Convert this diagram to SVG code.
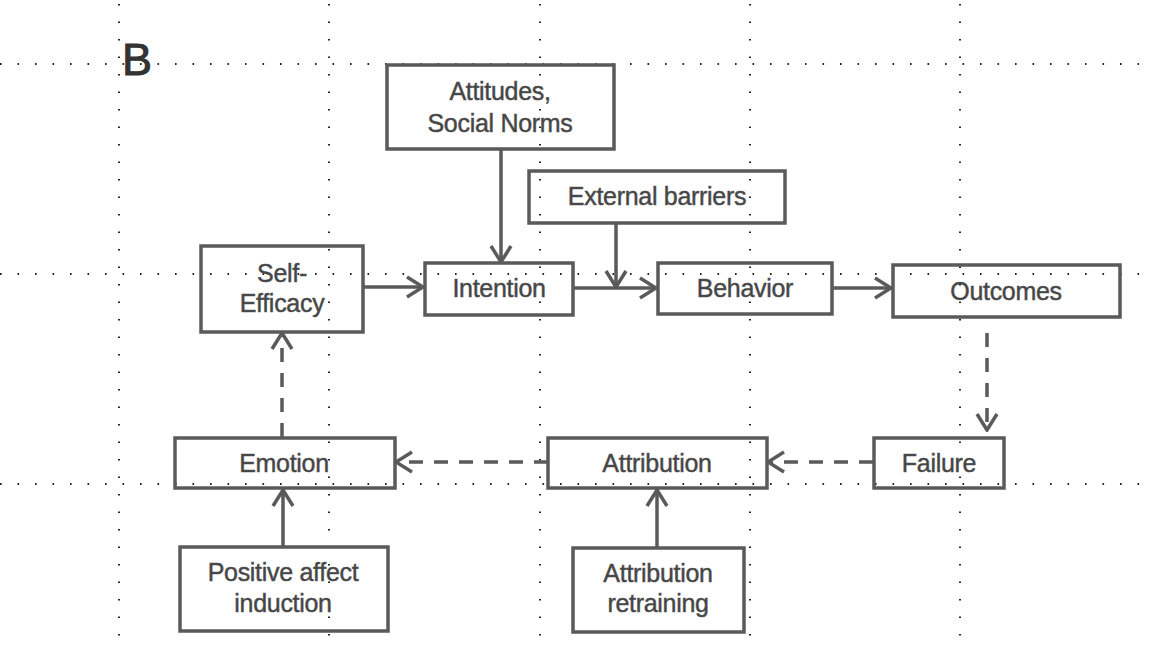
<svg xmlns="http://www.w3.org/2000/svg" width="1153" height="645" viewBox="0 0 1153 645">
  <style>
    .grid { stroke: #222; stroke-width: 2; stroke-dasharray: 1.6 15.9; fill: none; }
    .box { fill: none; stroke: #5a5a5a; stroke-width: 3.5; }
    .lbl { font-family: "Liberation Sans", Arial, sans-serif; font-size: 25px; fill: #444; stroke: #555; stroke-width: 0.5; text-anchor: middle; letter-spacing: -0.3px; }
    .link { fill: none; stroke: #5a5a5a; stroke-width: 3.5; }
    .dash { stroke-dasharray: 14 11; }
  </style>
  <defs>
    <marker id="head" viewBox="0 0 20 24" refX="18" refY="12" markerWidth="20" markerHeight="24" markerUnits="userSpaceOnUse" orient="auto">
      <path d="M2,2 L18,12 L2,22" fill="none" stroke="#5a5a5a" stroke-width="3.5" stroke-dasharray="none" stroke-linejoin="miter"/>
    </marker>
  </defs>

  <rect width="1153" height="645" fill="#fff"/>

  <!-- dotted layout grid -->
  <g id="grid">
    <line class="grid" x1="0" y1="64" x2="1153" y2="64"/>
    <line class="grid" x1="0" y1="274" x2="1153" y2="274"/>
    <line class="grid" x1="0" y1="484" x2="1153" y2="484"/>
    <line class="grid" x1="119" y1="4" x2="119" y2="645"/>
    <line class="grid" x1="329" y1="4" x2="329" y2="645"/>
    <line class="grid" x1="540" y1="4" x2="540" y2="645"/>
    <line class="grid" x1="750" y1="4" x2="750" y2="645"/>
    <line class="grid" x1="960" y1="4" x2="960" y2="645"/>
  </g>

  <text x="122" y="75" font-family="Liberation Sans, Arial, sans-serif" font-size="45" fill="#333" stroke="#333" stroke-width="1">B</text>

  <!-- connectors -->
  <g id="connectors">
    <line class="link" x1="501" y1="149" x2="501" y2="262" marker-end="url(#head)"/>
    <line class="link" x1="616" y1="223" x2="616" y2="287" marker-end="url(#head)"/>
    <line class="link" x1="363" y1="287" x2="423" y2="287" marker-end="url(#head)"/>
    <line class="link" x1="573" y1="288" x2="656" y2="288" marker-end="url(#head)"/>
    <line class="link" x1="832" y1="288" x2="891" y2="288" marker-end="url(#head)"/>
    <line class="link dash" x1="987" y1="333" x2="987" y2="430" marker-end="url(#head)"/>
    <line class="link dash" x1="873" y1="462" x2="768" y2="462" marker-end="url(#head)"/>
    <line class="link dash" x1="548" y1="462" x2="396" y2="462" marker-end="url(#head)"/>
    <line class="link dash" x1="282" y1="437" x2="282" y2="333" marker-end="url(#head)"/>
    <line class="link" x1="283" y1="547" x2="283" y2="490" marker-end="url(#head)"/>
    <line class="link" x1="657" y1="548" x2="657" y2="490" marker-end="url(#head)"/>
  </g>

  <g id="attitudes">
    <rect class="box" x="387" y="65" width="227" height="84"/>
    <text class="lbl" x="500" y="100">Attitudes,</text>
    <text class="lbl" x="500" y="132">Social Norms</text>
  </g>
  <g id="external-barriers">
    <rect class="box" x="529" y="171" width="256" height="52"/>
    <text class="lbl" x="657" y="205">External barriers</text>
  </g>
  <g id="self-efficacy">
    <rect class="box" x="201" y="246" width="162" height="86"/>
    <text class="lbl" x="282" y="282">Self-</text>
    <text class="lbl" x="282" y="312">Efficacy</text>
  </g>
  <g id="intention">
    <rect class="box" x="425" y="263" width="148" height="52"/>
    <text class="lbl" x="499" y="297">Intention</text>
  </g>
  <g id="behavior">
    <rect class="box" x="658" y="263" width="174" height="51"/>
    <text class="lbl" x="745" y="297">Behavior</text>
  </g>
  <g id="outcomes">
    <rect class="box" x="893" y="265" width="227" height="52"/>
    <text class="lbl" x="1006" y="300">Outcomes</text>
  </g>
  <g id="failure">
    <rect class="box" x="874" y="438" width="130" height="50"/>
    <text class="lbl" x="939" y="472">Failure</text>
  </g>
  <g id="attribution">
    <rect class="box" x="548" y="438" width="219" height="50"/>
    <text class="lbl" x="657" y="472">Attribution</text>
  </g>
  <g id="emotion">
    <rect class="box" x="175" y="438" width="220" height="50"/>
    <text class="lbl" x="284" y="472">Emotion</text>
  </g>
  <g id="positive-affect-induction">
    <rect class="box" x="180" y="547" width="208" height="84"/>
    <text class="lbl" x="283" y="581">Positive affect</text>
    <text class="lbl" x="283" y="612">induction</text>
  </g>
  <g id="attribution-retraining">
    <rect class="box" x="573" y="548" width="171" height="84"/>
    <text class="lbl" x="658" y="582">Attribution</text>
    <text class="lbl" x="658" y="612">retraining</text>
  </g>
</svg>
